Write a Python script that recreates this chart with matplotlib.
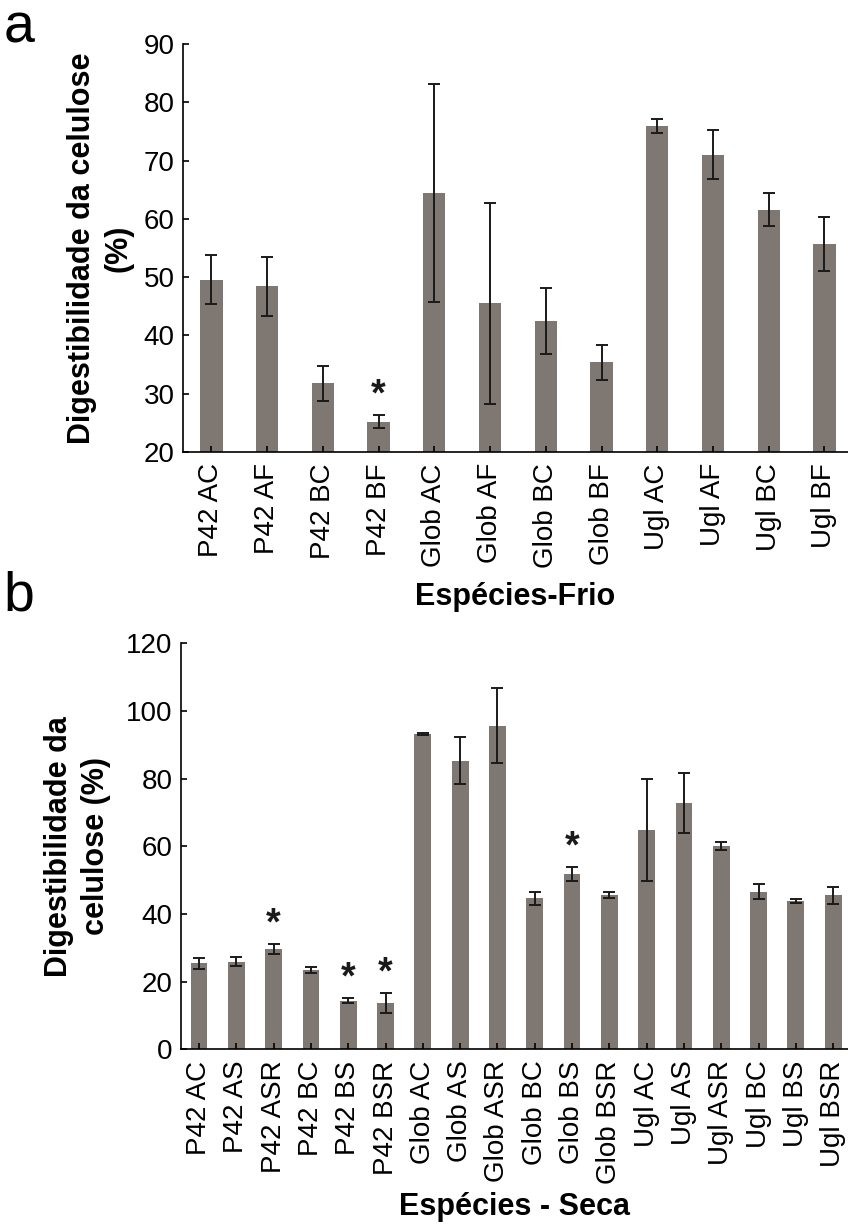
import matplotlib
matplotlib.use("Agg")
import matplotlib.pyplot as plt

plt.rcParams['font.family'] = ['Liberation Sans', 'DejaVu Sans']

# painel a - frio
labels_a = ['P42 AC', 'P42 AF', 'P42 BC', 'P42 BF', 'Glob AC', 'Glob AF',
            'Glob BC', 'Glob BF', 'Ugl AC', 'Ugl AF', 'Ugl BC', 'Ugl BF']
vals_a = [49.6, 48.4, 31.8, 25.2, 64.5, 45.5, 42.5, 35.4, 75.9, 71.0, 61.6, 55.7]
err_a = [4.2, 5.1, 3.0, 1.1, 18.7, 17.2, 5.7, 3.0, 1.2, 4.2, 2.9, 4.7]
star_a = ['P42 BF']

# painel b - seca
labels_b = ['P42 AC', 'P42 AS', 'P42 ASR', 'P42 BC', 'P42 BS', 'P42 BSR',
            'Glob AC', 'Glob AS', 'Glob ASR', 'Glob BC', 'Glob BS', 'Glob BSR',
            'Ugl AC', 'Ugl AS', 'Ugl ASR', 'Ugl BC', 'Ugl BS', 'Ugl BSR']
vals_b = [25.4, 25.9, 29.6, 23.5, 14.4, 13.8, 93.2, 85.3, 95.6, 44.7, 51.8, 45.6,
          64.9, 72.9, 60.1, 46.6, 43.9, 45.6]
err_b = [1.6, 1.3, 1.5, 1.0, 0.8, 3.0, 0.3, 7.0, 11.1, 1.9, 2.0, 0.8,
         15.0, 8.9, 1.3, 2.2, 0.6, 2.5]
star_b = ['P42 ASR', 'P42 BS', 'P42 BSR', 'Glob BS']

bar_color = '#7f7872'

fig = plt.figure(figsize=(8.48, 12.30), dpi=100)
ax1 = fig.add_axes([0.2158, 0.6325, 0.784, 0.3317])
ax2 = fig.add_axes([0.2131, 0.1468, 0.787, 0.3302])


def draw(ax, labels, vals, errs, stars, width, ylim, yticks, ylabel, xlabel, xlim):
    x = list(range(len(labels)))
    ax.bar(x, vals, width=width, color=bar_color, zorder=1)
    ax.errorbar(x, vals, yerr=errs, fmt='none', ecolor='#1a1a1a',
                elinewidth=1.4, capsize=4, capthick=1.4, zorder=2)
    for i, lab in enumerate(labels):
        if lab in stars:
            ax.annotate('*', xy=(i, vals[i] + errs[i]), xytext=(0, 1),
                        textcoords='offset points', ha='center', va='bottom',
                        fontsize=27, fontweight='bold', color='#1a1a1a')
    ax.set_xlim(*xlim)
    ax.set_ylim(*ylim)
    ax.set_yticks(yticks)
    ax.set_xticks(x)
    ax.set_xticklabels(labels, rotation=90, fontsize=20)
    ax.tick_params(axis='y', labelsize=20, direction='in', length=4, width=1.2, pad=6)
    ax.tick_params(axis='x', direction='in', length=4, width=1.2, pad=8)
    ax.spines['top'].set_visible(False)
    ax.spines['right'].set_visible(False)
    ax.spines['left'].set_linewidth(1.2)
    ax.spines['bottom'].set_linewidth(1.2)
    ax.set_ylabel(ylabel, fontsize=22, fontweight='bold', linespacing=1.3)
    ax.set_xlabel(xlabel, fontsize=22, fontweight='bold', labelpad=10)


draw(ax1, labels_a, vals_a, err_a, star_a, 0.4, (20, 90), range(20, 91, 10),
     'Digestibilidade da celulose\n(%)', 'Espécies-Frio', (-0.51, 11.42))
draw(ax2, labels_b, vals_b, err_b, star_b, 0.45, (0, 120), range(0, 121, 20),
     'Digestibilidade da\ncelulose (%)', 'Espécies - Seca', (-0.49, 17.4))
ax2.xaxis.labelpad = 6

ax1.yaxis.set_label_coords(-0.074, 0.5)
ax2.yaxis.set_label_coords(-0.104, 0.5)

fig.text(0.004, 0.998, 'a', fontsize=40, va='top', ha='left')
fig.text(0.004, 0.536, 'b', fontsize=40, va='top', ha='left')

fig.savefig('out.png', dpi=100)
